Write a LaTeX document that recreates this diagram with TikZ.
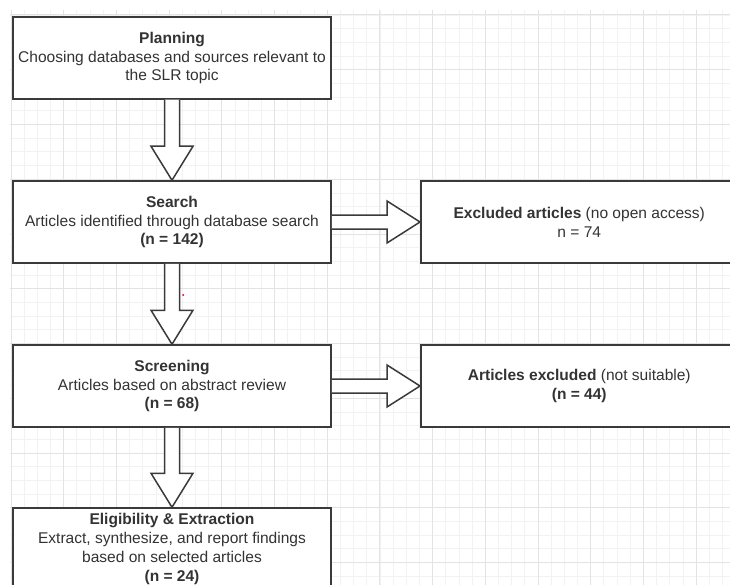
\documentclass[tikz,border=0pt]{standalone}
\usepackage{fontspec}
\setmainfont{Liberation Sans}
\usetikzlibrary{calc}
\definecolor{gminor}{HTML}{F2F2F2}
\definecolor{gmajor}{HTML}{E3E3E3}
\definecolor{edge}{HTML}{3A3A3A}
\definecolor{txt}{HTML}{333333}
\tikzset{
  box/.style={draw=edge, line width=1.5bp, fill=white, minimum width=318bp, minimum height=82bp,
    align=center, text=txt, font=\fontsize{15.6}{19}\selectfont, inner sep=0pt},
  rbox/.style={box, minimum width=317bp},
  fatarrow/.style={draw=edge, line width=1.5bp, fill=white, line join=miter},
}
\newcommand\myvarrow[2]{%
  \draw[fatarrow] ($(#1.south)+(-7.5,0)$) -- ($(#2.north)+(-7.5,-34)$) -- ($(#2.north)+(-21,-34)$)
    -- (#2.north) -- ($(#2.north)+(21,-34)$) -- ($(#2.north)+(7.5,-34)$) -- ($(#1.south)+(7.5,0)$);}
\newcommand\myharrow[2]{%
  \draw[fatarrow] ($(#1.east)+(0,-7)$) -- ($(#2.west)+(-33,-7)$) -- ($(#2.west)+(-33,-21)$)
    -- (#2.west) -- ($(#2.west)+(-33,21)$) -- ($(#2.west)+(-33,7)$) -- ($(#1.east)+(0,7)$);}
\begin{document}
\begin{tikzpicture}[x=1bp,y=-1bp]
\useasboundingbox (0,0) rectangle (730,585);
\clip (0,0) rectangle (730,585);
% grid
\foreach \i in {0,...,54} {\draw[gminor, line width=0.8bp] ({11+13.175*\i},10) -- ({11+13.175*\i},585);}
\foreach \i in {0,...,42} {\draw[gminor, line width=0.8bp] (10,{15+13.6875*\i}) -- (730,{15+13.6875*\i});}
\foreach \i in {0,...,13} {\draw[gmajor, line width=1bp] ({11+52.7*\i},10) -- ({11+52.7*\i},585);}
\foreach \i in {0,...,10} {\draw[gmajor, line width=1bp] (10,{15+54.75*\i}) -- (730,{15+54.75*\i});}
% boxes
\node[box] (plan) at (172,58) {\textbf{Planning}\\Choosing databases and sources relevant to\\the SLR topic};
\node[box] (search) at (172,222) {\textbf{Search}\\Articles identified through database search\\\textbf{(n = 142)}};
\node[box] (screen) at (172,386) {\textbf{Screening}\\Articles based on abstract review\\\textbf{(n = 68)}};
\node[box] (elig) at (172,549) {\textbf{Eligibility \& Extraction}\\Extract, synthesize, and report findings\\based on selected articles\\\textbf{(n = 24)}};
\node[rbox, anchor=west] (excl) at (420,222) {\textbf{Excluded articles} (no open access)\\n = 74};
\node[rbox, anchor=west] (excl2) at (420,386) {\textbf{Articles excluded} (not suitable)\\\textbf{(n = 44)}};
% arrows
\myvarrow{plan}{search}
\myvarrow{search}{screen}
\myvarrow{screen}{elig}
\myharrow{search}{excl}
\myharrow{screen}{excl2}
% stray mark
\fill[red!70!magenta] (183.3,295) circle (1.1);
\end{tikzpicture}
\end{document}
